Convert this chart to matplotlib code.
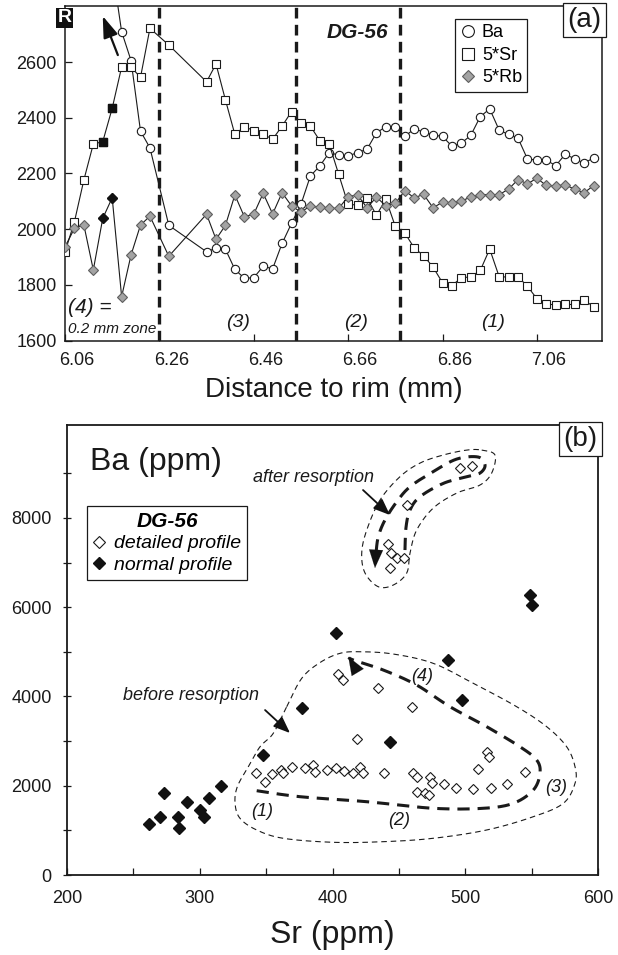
import numpy as np
import matplotlib
matplotlib.use("Agg")
import matplotlib.pyplot as plt
from matplotlib.lines import Line2D
from matplotlib.transforms import ScaledTranslation

plt.rcParams['font.family'] = ['Liberation Sans', 'DejaVu Sans']

# === (a) profile, distance to rim (mm) ===
dist = [6.06, 6.08, 6.10, 6.12, 6.14, 6.16, 6.18, 6.20, 6.22, 6.24, 6.28,
        6.36, 6.38, 6.40, 6.42, 6.44, 6.46, 6.48, 6.50, 6.52, 6.54,
        6.56, 6.58, 6.60, 6.62, 6.64, 6.66, 6.68, 6.70, 6.72, 6.74,
        6.76, 6.78, 6.80, 6.82, 6.84, 6.86, 6.88, 6.90, 6.92, 6.94,
        6.96, 6.98, 7.00, 7.02, 7.04, 7.06, 7.08, 7.10, 7.12, 7.14,
        7.16, 7.18]
ba = [np.nan, np.nan, np.nan, np.nan, np.nan, 2940, 2709, 2605, 2352, 2292, 2014,
      1919, 1932, 1928, 1856, 1824, 1826, 1867, 1858, 1949, 2021,
      2089, 2191, 2227, 2275, 2266, 2263, 2275, 2287, 2346, 2368,
      2366, 2333, 2360, 2349, 2338, 2333, 2298, 2309, 2337, 2404,
      2432, 2356, 2340, 2327, 2252, 2248, 2248, 2228, 2269, 2253,
      2237, 2256]
sr5 = [1918, 2027, 2177, 2306, 2314, 2434, 2582, 2582, 2545, 2721, 2661,
       2529, 2593, 2464, 2340, 2368, 2354, 2341, 2323, 2370, 2422,
       2380, 2370, 2318, 2305, 2197, 2089, 2087, 2112, 2050, 2108,
       2010, 1987, 1933, 1905, 1864, 1808, 1798, 1826, 1829, 1852,
       1929, 1830, 1828, 1830, 1795, 1751, 1731, 1729, 1730, 1730,
       1746, 1722]
rb5 = [1937, 2003, 2015, 1854, 2039, 2113, 1758, 1908, 2015, 2047, 1903,
       2054, 1964, 2014, 2123, 2045, 2054, 2129, 2055, 2131, 2084,
       2061, 2084, 2079, 2075, 2075, 2117, 2123, 2077, 2115, 2084,
       2093, 2138, 2113, 2125, 2077, 2097, 2095, 2101, 2116, 2124,
       2124, 2124, 2144, 2178, 2163, 2183, 2157, 2156, 2159, 2144,
       2131, 2156]
normal_idx = [4, 5]                      # spots shared with the normal profile
zone_bounds = [6.26, 6.55, 6.77]
zone_labels = ["(3)", "(2)", "(1)"]
zone_label_x = [6.426, 6.676, 6.966]
xtick_vals = [6.06, 6.26, 6.46, 6.66, 6.86, 7.06]
ytick_vals_a = [1600, 1800, 2000, 2200, 2400, 2600]

# === (b) Ba vs Sr (ppm) ===
normal_sr = [261.8, 270.0, 273.0, 283.9, 284.6, 290.2, 300.2, 303.5, 307.0,
             315.8, 347.9, 377.3, 402.6, 443.3, 487.3, 497.8, 548.8, 550.5]
normal_ba = [1135, 1306, 1844, 1291, 1045, 1642, 1456, 1306, 1717,
             1993, 2688, 3733, 5413, 2986, 4815, 3919, 6271, 6047]
detail_sr = [496.0, 504.9, 455.9, 442.0, 443.8, 448.3, 453.9, 443.3,
             342.4, 349.2, 354.2, 361.2, 362.5, 369.3, 379.3, 385.5, 386.8,
             395.6, 402.4, 408.7, 415.7, 420.8, 422.8, 438.8, 418.2, 404.4,
             408.2, 434.5, 460.1, 460.9, 463.4, 473.4, 475.2, 463.4, 469.7,
             472.9, 484.0, 492.8, 505.6, 509.8, 516.1, 518.1, 519.1, 531.2,
             545.0]
detail_ba = [9108, 9160, 8287, 7413, 7205, 7093, 7093, 6869,
             2277, 2090, 2262, 2352, 2292, 2412, 2389, 2463, 2314,
             2352, 2389, 2336, 2277, 2426, 2277, 2292, 3039, 4502,
             4367, 4181, 3755, 2292, 2202, 2202, 2068, 1852, 1830,
             1792, 2038, 1956, 1919, 2367, 2762, 2636, 1956, 2038,
             2300]

# outlines and trend paths drawn on (b), (Sr, Ba)
after_env = [(512.4, 9518), (522.4, 9406), (519.9, 9003), (511.1, 8735),
             (493.6, 8555), (475.9, 8219), (463.4, 7727), (458.4, 7212),
             (455.9, 6764), (445.8, 6495), (434.5, 6457), (424.5, 6764),
             (422.0, 7212), (425.8, 7727), (435.8, 8399), (450.8, 8921),
             (465.9, 9227), (483.2, 9406), (501.1, 9518)]
before_env = [(365.5, 3769), (376.8, 4405), (390.6, 4759), (405.6, 4965),
              (420.7, 5001), (445.8, 4950), (475.9, 4741), (506.1, 4293),
              (538.8, 3769), (561.4, 3321), (576.4, 2873), (582.7, 2426),
              (582.7, 2054), (573.9, 1606), (551.3, 1306), (516.2, 1008),
              (475.9, 822), (438.3, 746), (400.6, 732), (362.9, 822),
              (342.9, 1008), (330.3, 1270), (326.6, 1606), (328.3, 1978),
              (336.6, 2426), (345.4, 2873), (355.4, 3174)]
after_path = [(454.6, 7279), (455.4, 7794), (458.4, 8175), (465.9, 8473),
              (483.5, 8773), (501.1, 8921), (511.1, 9003), (514.9, 9182),
              (509.8, 9362), (493.6, 9317), (475.7, 9033), (458.4, 8697),
              (448.4, 8361), (439.5, 7951), (434.5, 7577), (432.8, 7212),
              (432.0, 6876)]
before_path = [(342.9, 1888), (375.5, 1754), (425.8, 1642), (475.9, 1494),
               (513.6, 1494), (536.2, 1606), (551.3, 1904), (556.3, 2278),
               (553.8, 2576), (541.2, 2873), (516.2, 3321), (488.5, 3769),
               (463.4, 4255), (438.3, 4591), (415.7, 4815), (411.9, 4889)]
stage_labels = ["(1)", "(2)", "(3)", "(4)"]
stage_pos = [(346.7, 1418), (450.1, 1216), (568.4, 1964), (467.2, 4441)]

INK = "#1a1a1a"
GREY_FILL = "#a3a3a3"
GREY_EDGE = "#5e5e5e"


def smooth(points, closed=False, n=16):
    """Catmull-Rom curve through the given points."""
    p = np.asarray(points, float)
    if closed:
        p = np.vstack([p[-1], p, p[0], p[1]])
    else:
        p = np.vstack([p[0], p, p[-1]])
    t = np.linspace(0, 1, n, endpoint=False)[:, None]
    segs = []
    for i in range(1, len(p) - 2):
        p0, p1, p2, p3 = p[i - 1], p[i], p[i + 1], p[i + 2]
        segs.append(0.5 * (2 * p1 + (-p0 + p2) * t
                           + (2 * p0 - 5 * p1 + 4 * p2 - p3) * t ** 2
                           + (-p0 + 3 * p1 - 3 * p2 + p3) * t ** 3))
    segs.append(p[-2][None])
    return np.vstack(segs)


fig = plt.figure(figsize=(6.18, 9.55), dpi=100)
ax1 = fig.add_axes([65 / 618, 1 - 340.7 / 955, 537 / 618, 334.4 / 955])
ax2 = fig.add_axes([67 / 618, 80 / 955, 531 / 618, 450 / 955])

# ---------------- (a) ----------------
dist_a = np.array(dist)
ax1.plot(dist_a, ba, color=INK, lw=0.8, marker='o', ms=6, mfc='white',
         mec=INK, mew=0.8, zorder=3)
ax1.plot(dist_a, sr5, color=INK, lw=0.8, marker='s', ms=5.8, mfc='white',
         mec=INK, mew=0.8, zorder=3)
ax1.plot(dist_a, rb5, color=INK, lw=0.8, marker='D', ms=4.6, mfc=GREY_FILL,
         mec=GREY_EDGE, mew=0.8, zorder=3)
ax1.plot(dist_a[normal_idx], np.array(sr5)[normal_idx], ls='none', marker='s',
         ms=5.8, color='#111111', zorder=4)
ax1.plot(dist_a[normal_idx], np.array(rb5)[normal_idx], ls='none', marker='D',
         ms=4.6, color='#111111', zorder=4)

for xb in zone_bounds:
    ax1.axvline(xb, color=INK, lw=2.4, dashes=(3.2, 1.9), zorder=2)
for lab, xl in zip(zone_labels, zone_label_x):
    ax1.text(xl, 0.055, lab, transform=ax1.get_xaxis_transform(),
             ha='center', va='center', fontsize=14, style='italic', color=INK)

ax1.text(0.006, 0.098, "(4) =", transform=ax1.transAxes, ha='left',
         va='center', fontsize=15, style='italic', color=INK)
ax1.text(0.006, 0.036, "0.2 mm zone", transform=ax1.transAxes, ha='left',
         va='center', fontsize=11, style='italic', color=INK)
ax1.text(0.544, 0.923, "DG-56", transform=ax1.transAxes, ha='center',
         va='center', fontsize=15, fontweight='bold', style='italic', color=INK)
ax1.text(0.999, 0.998, "(a)", transform=ax1.transAxes, ha='right', va='top',
         fontsize=20, color=INK,
         bbox=dict(boxstyle='square,pad=0.15', fc='white', ec=INK, lw=0.9))

# direction towards the rim
ax1.annotate('', xy=(6.14, 2765), xytext=(6.172, 2625),
             arrowprops=dict(arrowstyle='-|>,head_length=1.3,head_width=0.45',
                             color='#111111', lw=1.6, shrinkA=0, shrinkB=0))

ax1.set_xlim(6.06, 7.198)
ax1.set_ylim(1600, 2800)
ax1.set_xticks(xtick_vals)
ax1.set_xticklabels([f"{v:.2f}" for v in xtick_vals])
ax1.set_yticks(ytick_vals_a)
ax1.tick_params(direction='in', length=5, width=0.9, labelsize=13, colors=INK)
ax1.tick_params(axis='x', pad=8)
ax1.tick_params(axis='y', pad=6)
shift = ScaledTranslation(0.12, 0, fig.dpi_scale_trans)
for lbl in ax1.get_xticklabels():
    lbl.set_transform(lbl.get_transform() + shift)
ax1.set_xlabel("Distance to rim (mm)", fontsize=20, labelpad=6, color=INK)
for sp in ax1.spines.values():
    sp.set_linewidth(1.1)
    sp.set_color(INK)

handles_a = [
    Line2D([], [], ls='none', marker='o', ms=8.5, mfc='white', mec=INK, mew=0.8),
    Line2D([], [], ls='none', marker='s', ms=8, mfc='white', mec=INK, mew=0.8),
    Line2D([], [], ls='none', marker='D', ms=6, mfc=GREY_FILL, mec=GREY_EDGE, mew=0.8),
]
leg_a = ax1.legend(handles_a, ["Ba", "5*Sr", "5*Rb"], loc='upper left',
                   bbox_to_anchor=(0.726, 0.962), fontsize=13, frameon=True,
                   fancybox=False, edgecolor=INK, framealpha=1,
                   handlelength=0.8, handletextpad=0.4, labelspacing=0.3,
                   borderpad=0.3, borderaxespad=0)
leg_a.get_frame().set_linewidth(0.9)

fig.text(64.5 / 618, 1 - 18 / 955, "R", color='white', fontsize=14,
         fontweight='bold', ha='center', va='center',
         bbox=dict(boxstyle='square,pad=0.08', fc='#111111', ec='none'))

# ---------------- (b) ----------------
env = smooth(after_env, closed=True)
ax2.plot(env[:, 0], env[:, 1], color=INK, lw=0.8, dashes=(5, 3.5), zorder=1)
env = smooth(before_env, closed=True)
ax2.plot(env[:, 0], env[:, 1], color=INK, lw=0.8, dashes=(5, 3.5), zorder=1)

for path in (after_path, before_path):
    crv = smooth(path)
    ax2.plot(crv[:-6, 0], crv[:-6, 1], color=INK, lw=2.2, dashes=(4, 2.6),
             zorder=2)
    ax2.annotate('', xy=tuple(crv[-1]), xytext=tuple(crv[-8]),
                 arrowprops=dict(arrowstyle='-|>,head_length=1.3,head_width=0.5',
                                 color='#111111', lw=0.1, shrinkA=0, shrinkB=0),
                 zorder=3)

ax2.plot(detail_sr, detail_ba, ls='none', marker='D', ms=5.6, mfc='white',
         mec=INK, mew=0.8, zorder=4)
ax2.plot(normal_sr, normal_ba, ls='none', marker='D', ms=6, color='#111111',
         zorder=4)

for lab, (xs, ys) in zip(stage_labels, stage_pos):
    ax2.text(xs, ys, lab, ha='center', va='center', fontsize=13,
             style='italic', color=INK)

ax2.text(340, 8914, "after resorption", ha='left', va='center', fontsize=13,
         style='italic', color=INK)
ax2.annotate('', xy=(443.3, 8063), xytext=(423, 8623),
             arrowprops=dict(arrowstyle='-|>,head_length=1.0,head_width=0.4',
                             color='#111111', lw=1.3, shrinkA=0, shrinkB=0))
ax2.text(242, 4031, "before resorption", ha='left', va='center', fontsize=13,
         style='italic', color=INK)
ax2.annotate('', xy=(368, 3180), xytext=(349.2, 3695),
             arrowprops=dict(arrowstyle='-|>,head_length=1.0,head_width=0.4',
                             color='#111111', lw=1.3, shrinkA=0, shrinkB=0))

ax2.text(0.043, 0.951, "Ba (ppm)", transform=ax2.transAxes, ha='left',
         va='top', fontsize=23, color=INK)
ax2.text(0.999, 0.998, "(b)", transform=ax2.transAxes, ha='right', va='top',
         fontsize=20, color=INK,
         bbox=dict(boxstyle='square,pad=0.15', fc='white', ec=INK, lw=0.9))

handles_b = [
    Line2D([], [], ls='none', marker='D', ms=6, mfc='white', mec=INK, mew=0.8),
    Line2D([], [], ls='none', marker='D', ms=6, color='#111111'),
]
leg_b = ax2.legend(handles_b, ["detailed profile", "normal profile"],
                   title="DG-56", loc='upper left',
                   bbox_to_anchor=(0.0377, 0.82),
                   prop={'style': 'italic', 'size': 14},
                   title_fontproperties={'weight': 'bold', 'style': 'italic',
                                         'size': 15},
                   frameon=True, fancybox=False, edgecolor=INK, framealpha=1,
                   handlelength=0.6, handletextpad=0.5, labelspacing=0.2,
                   borderpad=0.3, borderaxespad=0)
leg_b.get_frame().set_linewidth(0.9)

ax2.set_xlim(200, 600)
ax2.set_ylim(0, 10080)
ax2.set_xticks([200, 300, 400, 500, 600])
ax2.set_xticks([250, 350, 450, 550], minor=True)
ax2.set_yticks([0, 2000, 4000, 6000, 8000])
ax2.set_yticks([1000, 3000, 5000, 7000, 9000], minor=True)
ax2.tick_params(axis='x', which='both', direction='in', length=5, width=0.9,
                labelsize=13, pad=11, colors=INK)
ax2.tick_params(axis='y', which='both', direction='inout', length=6, width=0.9,
                labelsize=13, pad=8, colors=INK)
ax2.set_xlabel("Sr (ppm)", fontsize=23, labelpad=9, color=INK)
for sp in ax2.spines.values():
    sp.set_linewidth(1.3)
    sp.set_color(INK)

fig.savefig("out.png", dpi=100)
